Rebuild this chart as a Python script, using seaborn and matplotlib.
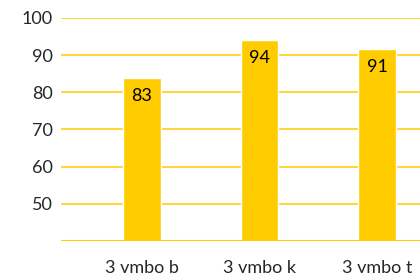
import matplotlib
matplotlib.use("Agg")
import matplotlib.pyplot as plt
import seaborn as sns
import pandas as pd

categories = ["3 vmbo b", "3 vmbo k", "3 vmbo t"]
scores = [83.9, 94.0, 91.7]
yticks = [50, 60, 70, 80, 90, 100]

yellow = "#FFCC00"

sns.set_theme(style="white")
plt.rcParams["font.family"] = ["Lato", "DejaVu Sans"]

df = pd.DataFrame({"groep": categories, "score": scores})

fig = plt.figure(figsize=(4.2, 2.77), dpi=100)
ax = fig.add_axes([61 / 420, 36 / 277, 359 / 420, 223 / 277])

# rasterlijnen
for y in yticks:
    ax.axhline(y, color=yellow, lw=1.1, zorder=0)
ax.axhline(40, color=yellow, lw=2.2, zorder=3)

sns.barplot(data=df, x="groep", y="score", color=yellow, width=0.32,
            saturation=1, ax=ax, zorder=2)

# waarden in de staven
for i, v in enumerate(scores):
    ax.annotate(f"{int(v)}", (i, v), xytext=(0, -18), textcoords="offset pixels",
                ha="center", va="center", fontsize=13, color="black", zorder=4)

ax.set_ylim(40, 100)
ax.set_xlim(-0.686, 2.364)
ax.set_yticks(yticks)
ax.set_xlabel("")
ax.set_ylabel("")
ax.tick_params(axis="y", length=0, pad=6, labelsize=13)
ax.tick_params(axis="x", length=0, pad=14, labelsize=13)
for s in ax.spines.values():
    s.set_visible(False)

fig.savefig("out.png", dpi=100)
